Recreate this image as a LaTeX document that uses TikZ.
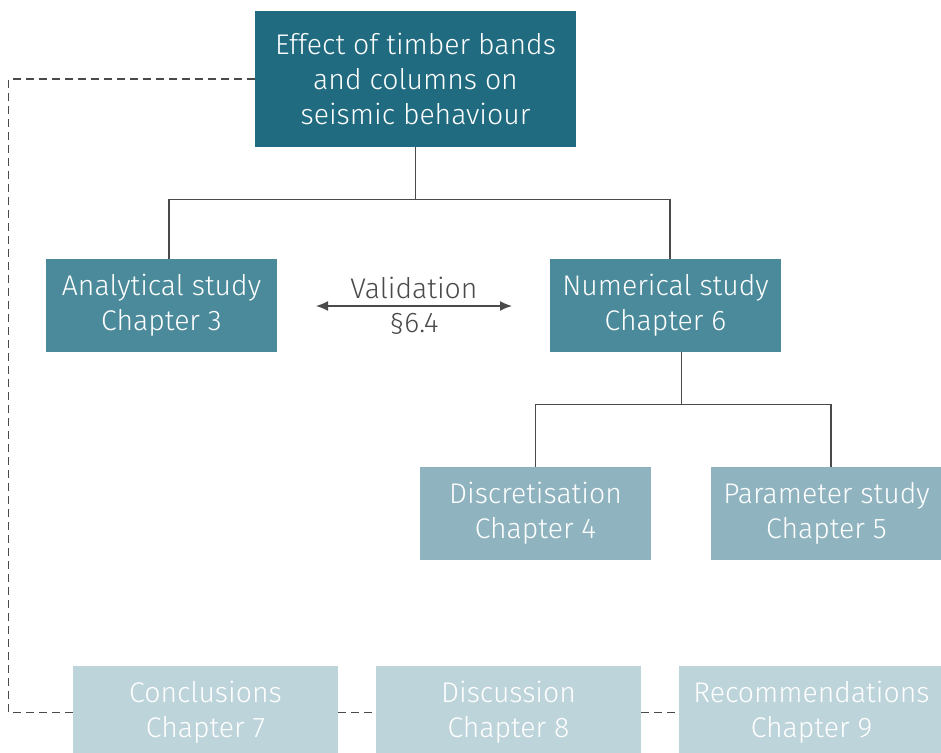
\documentclass[tikz,border=0pt]{standalone}
\usepackage{fontspec}
\setmainfont{Fira Sans Light}
\usetikzlibrary{arrows.meta}

\definecolor{tealA}{HTML}{206B80}
\definecolor{tealB}{HTML}{4A8A9B}
\definecolor{tealC}{HTML}{8FB4C0}
\definecolor{tealD}{HTML}{BDD4DA}
\definecolor{linegray}{HTML}{4A4A4A}

\tikzset{
  box/.style={inner sep=0pt, align=center, text=white,
    font=\fontsize{14.2}{17.5}\selectfont},
  link/.style={draw=linegray, line width=0.75pt},
  back/.style={draw=linegray, line width=0.6pt, dash pattern=on 4pt off 2.5pt}
}

\begin{document}
\begin{tikzpicture}[x=0.5pt,y=-0.5pt]

\useasboundingbox (0,0) rectangle (941,753);

% main question
\node (top) at (415.5,79) [box, fill=tealA, minimum width=160.5pt, minimum height=68pt]
  {Effect of timber bands\\and columns on\\seismic behaviour};

% studies
\node (anal) at (161.5,305.5) [box, fill=tealB, minimum width=115.5pt, minimum height=46.5pt]
  {Analytical study\\Chapter 3};
\node (num) at (665.5,305.5) [box, fill=tealB, minimum width=115.5pt, minimum height=46.5pt]
  {Numerical study\\Chapter 6};

\node (disc) at (535.5,513.5) [box, fill=tealC, minimum width=115.5pt, minimum height=46.5pt]
  {Discretisation\\Chapter 4};
\node (par) at (826.5,513.5) [box, fill=tealC, minimum width=115.5pt, minimum height=46.5pt]
  {Parameter study\\Chapter 5};

% closing chapters
\node (concl) at (205.5,712.5) [box, fill=tealD, minimum width=132.5pt, minimum height=46.5pt]
  {Conclusions\\Chapter 7};
\node (discu) at (508.5,712.5) [box, fill=tealD, minimum width=132.5pt, minimum height=46.5pt]
  {Discussion\\Chapter 8};
\node (rec) at (811.5,712.5) [box, fill=tealD, minimum width=132.5pt, minimum height=46.5pt]
  {Recommendations\\Chapter 9};

% tree
\draw [link] (top.south) -- ++(0,52) coordinate (j1);
\draw [link] (j1) -| ([xshift=3.75pt]anal.north);
\draw [link] (j1) -| ([xshift=2.25pt]num.north);

\draw [link] ([xshift=8pt]num.south) -- ++(0,52) coordinate (j2);
\draw [link] (j2) -| (disc.north);
\draw [link] (j2) -| ([xshift=2.25pt]par.north);

% validation
\coordinate (vl) at (316,306);
\coordinate (vr) at (512,306);
\draw [draw=linegray, line width=0.75pt, {Latex[length=6pt,width=5pt]}-{Latex[length=6pt,width=5pt]}]
  (vl) -- (vr)
  node[midway, above=0pt, text=linegray, font=\fontsize{14.2}{17.5}\selectfont]{Validation}
  node[midway, below=0pt, text=linegray, font=\fontsize{14.2}{17.5}\selectfont]{§6.4};

% feedback
\draw [back] (top.west) -- ++(-246,0) |- (concl.west);
\draw [back] (concl.east) -- (discu.west);
\draw [back] (discu.east) -- (rec.west);

\end{tikzpicture}
\end{document}
